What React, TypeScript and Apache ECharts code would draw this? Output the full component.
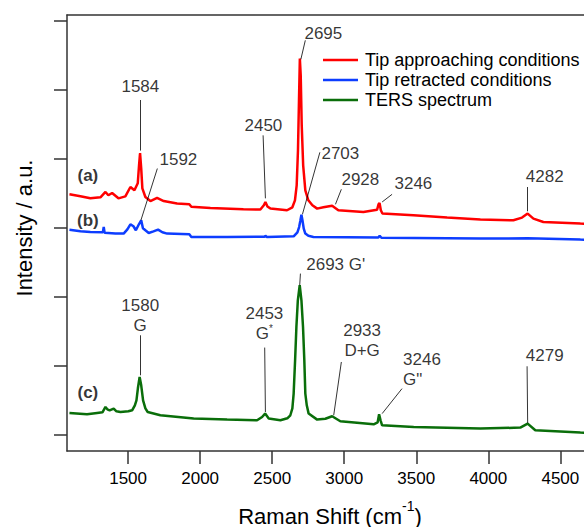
import React, { useEffect, useRef } from "react";
import * as echarts from "echarts";

const FONT = "'Liberation Sans', Arial, Helvetica, sans-serif";

const xTicks = [1500, 2000, 2500, 3000, 3500, 4000, 4500];
const yTicks = [0, 1, 2, 3, 4, 5, 6];
const seriesNames = ["Tip approaching conditions", "Tip retracted conditions", "TERS spectrum"];
const seriesColors = ["#ff0000", "#0d3dff", "#0a6e0a"];

// (a) tip approaching conditions
const redSpectrum: [number, number][] = [
  [1093, 3.488], [1169, 3.459], [1238, 3.43], [1308, 3.445], [1343, 3.522], [1363, 3.474],
  [1389, 3.507], [1433, 3.43], [1481, 3.459], [1516, 3.594], [1544, 3.546], [1567, 3.648],
  [1576, 3.909], [1583, 4.087], [1591, 3.865], [1599, 3.575], [1620, 3.449], [1655, 3.391],
  [1701, 3.435], [1747, 3.391], [1840, 3.354], [1925, 3.343], [1939, 3.307], [2071, 3.29],
  [2300, 3.271], [2418, 3.267], [2442, 3.329], [2453, 3.377], [2467, 3.313], [2488, 3.281],
  [2603, 3.257], [2640, 3.3], [2658, 3.401], [2670, 3.619], [2679, 4.126], [2686, 4.851],
  [2692, 5.455], [2698, 5.213], [2705, 4.488], [2715, 3.909], [2730, 3.546], [2751, 3.401],
  [2779, 3.329], [2812, 3.281], [2855, 3.3], [2916, 3.322], [2959, 3.257], [3133, 3.232],
  [3228, 3.264], [3238, 3.343], [3245, 3.362], [3254, 3.257], [3265, 3.209], [3480, 3.184],
  [3714, 3.151], [3945, 3.122], [4174, 3.112], [4234, 3.151], [4273, 3.209], [4313, 3.136],
  [4382, 3.087], [4639, 3.064], [4708, 3.061],
];

// (b) tip retracted conditions
const blueSpectrum: [number, number][] = [
  [1093, 2.974], [1169, 2.952], [1238, 2.942], [1325, 2.938], [1331, 3.014], [1337, 2.93],
  [1412, 2.919], [1469, 2.919], [1495, 2.981], [1516, 3.054], [1537, 3.025], [1554, 2.967],
  [1575, 3.054], [1591, 3.112], [1603, 2.996], [1620, 2.967], [1643, 2.928], [1676, 2.952],
  [1708, 2.977], [1738, 2.938], [1771, 2.919], [1925, 2.909], [1939, 2.87], [2187, 2.87],
  [2446, 2.872], [2453, 2.887], [2463, 2.87], [2649, 2.88], [2675, 2.938], [2687, 3.014],
  [2696, 3.112], [2703, 3.194], [2710, 3.112], [2719, 2.991], [2730, 2.919], [2751, 2.887],
  [2786, 2.87], [3237, 2.861], [3246, 2.887], [3258, 2.858], [3945, 2.846], [4271, 2.851],
  [4639, 2.832], [4708, 2.829],
];

// (c) TERS spectrum
const greenSpectrum: [number, number][] = [
  [1093, 0.319], [1215, 0.3], [1285, 0.319], [1322, 0.329], [1343, 0.406], [1356, 0.372],
  [1372, 0.358], [1400, 0.383], [1419, 0.343], [1447, 0.333], [1502, 0.343], [1528, 0.358],
  [1547, 0.43], [1558, 0.503], [1568, 0.677], [1580, 0.841], [1591, 0.72], [1604, 0.503],
  [1620, 0.387], [1636, 0.333], [1724, 0.286], [1955, 0.238], [2187, 0.223], [2395, 0.213],
  [2430, 0.261], [2451, 0.31], [2476, 0.238], [2557, 0.213], [2605, 0.242], [2626, 0.286],
  [2640, 0.387], [2649, 0.6], [2659, 1.083], [2668, 1.565], [2678, 1.952], [2691, 2.17],
  [2703, 1.952], [2714, 1.565], [2723, 1.083], [2730, 0.6], [2740, 0.43], [2753, 0.31],
  [2812, 0.223], [2869, 0.235], [2916, 0.271], [2973, 0.199], [3204, 0.155], [3232, 0.184],
  [3242, 0.3], [3252, 0.213], [3263, 0.141], [3482, 0.116], [3945, 0.093], [4222, 0.107],
  [4273, 0.165], [4326, 0.068], [4639, 0.035], [4708, 0.032],
];

// peak annotations: text, anchor x, anchor y, alignment
const annotationTexts = [
  "1584", "1592", "2450", "2695", "2703", "2928", "3246", "4282",
  "1580\nG", "2453\n{g|G}{st|*}", "2693 G'", "2933\nD+G", '3246\nG"', "4279",
];
const annotationX = [1585, 1849, 2439, 2855, 2973, 3112, 3480, 4260, 1584, 2446, 2941, 3124, 3408, 4260];
const annotationY = [5.054, 3.996, 4.488, 5.822, 4.078, 3.701, 3.652, 3.749, 1.735, 1.619, 2.474, 1.368, 0.948, 1.155];
const annotationAlign = ["center", "center", "center", "center", "center", "center", "center", "left",
  "center", "center", "center", "center", "left", "left"];

// leader lines: [x1, y1, x2, y2]
const leaderLines: [number, number, number, number][] = [
  [1585, 4.855, 1585, 4.122],
  [1703, 3.862, 1589, 3.112],
  [2437, 4.343, 2453, 3.43],
  [2730, 5.72, 2699, 5.445],
  [2831, 4.097, 2710, 3.199],
  [2980, 3.561, 2939, 3.343],
  [3332, 3.488, 3263, 3.377],
  [4273, 3.594, 4273, 3.242],
  [1585, 1.445, 1585, 0.865],
  [2448, 1.267, 2453, 0.333],
  [2696, 2.339, 2691, 2.17],
  [2980, 1.058, 2927, 0.286],
  [3401, 0.672, 3263, 0.31],
  [4269, 0.996, 4273, 0.174],
];

const curveLabels = ["(a)", "(b)", "(c)"];
const curveLabelX = [1221, 1221, 1221];
const curveLabelY = [3.764, 3.112, 0.619];

export default function App() {
  const ref = useRef<HTMLDivElement>(null);
  useEffect(() => {
    document.body.style.margin = "0";
    if (!ref.current) return;
    const chart = echarts.init(ref.current, undefined, { renderer: "svg" });
    const spectra = [redSpectrum, blueSpectrum, greenSpectrum];
    const axisLineStyle = { color: "#333", width: 1.5 };
    const option: any = {
      animation: false,
      backgroundColor: "#ffffff",
      textStyle: { fontFamily: FONT },
      grid: { left: 67, top: 15, right: 0, height: 436, show: false },
      legend: {
        data: seriesNames,
        orient: "vertical",
        left: 318,
        top: 46,
        icon: "rect",
        itemWidth: 35,
        itemHeight: 2.5,
        itemGap: 2,
        textStyle: { fontSize: 18, color: "#000", fontFamily: FONT, lineHeight: 18, padding: [0, 0, 0, 2] },
        selectedMode: false,
      },
      xAxis: [
        {
          type: "value",
          position: "bottom",
          min: 1076,
          max: 4664,
          axisLine: { show: true, onZero: false, lineStyle: axisLineStyle },
          axisTick: { show: true, inside: false, length: 13, customValues: xTicks, lineStyle: axisLineStyle },
          axisLabel: {
            show: true, customValues: xTicks, margin: 19, fontSize: 17, color: "#000", fontFamily: FONT,
            formatter: (v: number) => String(v),
          },
          splitLine: { show: false },
        },
        {
          type: "value",
          position: "top",
          min: 1076,
          max: 4664,
          axisLine: { show: true, onZero: false, lineStyle: axisLineStyle },
          axisTick: { show: false },
          axisLabel: { show: false },
          splitLine: { show: false },
        },
      ],
      yAxis: {
        type: "value",
        min: -0.232,
        max: 6.087,
        axisLine: { show: true, onZero: false, lineStyle: axisLineStyle },
        axisTick: { show: true, inside: false, length: 13, customValues: yTicks, lineStyle: axisLineStyle },
        axisLabel: { show: false },
        splitLine: { show: false },
      },
      series: [
        ...spectra.map((d, i) => ({
          name: seriesNames[i],
          type: "line",
          data: d,
          showSymbol: false,
          symbol: "none",
          lineStyle: { color: seriesColors[i], width: 2.5 },
          itemStyle: { color: seriesColors[i] },
          silent: true,
          z: 2,
        })),
        {
          name: "annotations",
          type: "scatter",
          symbolSize: 0,
          silent: true,
          z: 5,
          data: [
            ...annotationTexts.map((t, i) => ({
              value: [annotationX[i], annotationY[i]],
              label: { formatter: t, align: annotationAlign[i] },
            })),
            ...curveLabels.map((t, i) => ({
              value: [curveLabelX[i], curveLabelY[i]],
              label: { formatter: t, fontWeight: "bold", align: "center" },
            })),
          ],
          label: {
            show: true,
            position: "inside",
            fontSize: 17,
            lineHeight: 20,
            color: "#000",
            fontFamily: FONT,
            rich: {
              g: { fontSize: 17, color: "#000", fontFamily: FONT, lineHeight: 20 },
              st: { fontSize: 10, color: "#000", fontFamily: FONT, verticalAlign: "top", lineHeight: 10 },
            },
          },
          markLine: {
            silent: true,
            symbol: "none",
            animation: false,
            label: { show: false },
            emphasis: { disabled: true },
            lineStyle: { color: "#000", width: 0.8, type: "solid" },
            data: leaderLines.map((l) => [{ coord: [l[0], l[1]] }, { coord: [l[2], l[3]] }]),
          },
        },
      ],
      graphic: [
        {
          type: "text",
          x: 330,
          y: 513,
          style: {
            text: "{t|Raman Shift (cm}{s|-1}{t|)}",
            textAlign: "center",
            textVerticalAlign: "middle",
            fill: "#000",
            rich: {
              t: { fontSize: 22, fontFamily: FONT, color: "#000", lineHeight: 28, verticalAlign: "bottom" },
              s: { fontSize: 14, fontFamily: FONT, color: "#000", verticalAlign: "top" },
            },
          },
        },
        {
          type: "text",
          x: 24,
          y: 228,
          rotation: Math.PI / 2,
          style: {
            text: "Intensity / a.u.",
            font: `22px ${FONT}`,
            textAlign: "center",
            textVerticalAlign: "middle",
            fill: "#000",
          },
        },
      ],
    };
    chart.setOption(option);
    return () => chart.dispose();
  }, []);
  return <div ref={ref} style={{ width: 584, height: 527 }} />;
}
